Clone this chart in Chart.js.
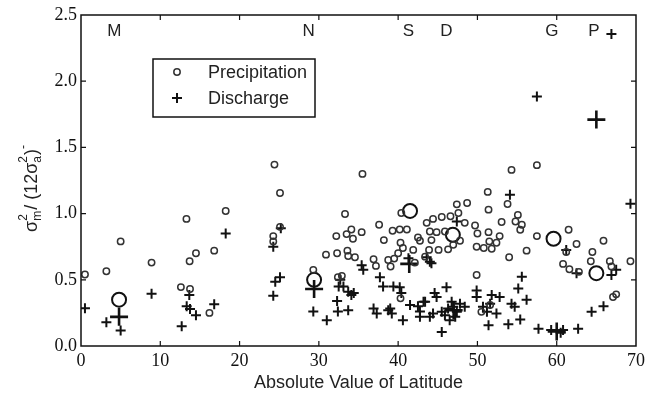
<!DOCTYPE html>
<html>
<head>
<meta charset="utf-8">
<script src="https://cdn.jsdelivr.net/npm/chart.js@4.4.1/dist/chart.umd.min.js"></script>
<style>
  body { margin: 0; background: #fff; }
</style>
</head>
<body>
<canvas id="latChart" width="654" height="401"></canvas>
<script>
// precipitation points (open circles)
const precipLat = [0.5, 3.2, 5.0, 8.9, 12.6, 13.75, 13.3, 13.7, 14.5, 16.8, 18.25, 16.2, 24.25, 24.25, 24.4, 25.1, 25.1,
  29.3, 30.9, 32.2, 32.3, 32.4, 33.3, 34.1, 33.5, 34.3, 35.4, 33.6, 33.7, 34.55, 32.9, 35.5, 37.6, 38.2, 36.9, 37.2,
  38.75, 39.05, 39.3, 40.2, 41.1, 40.3, 40.6, 40.0, 39.5, 40.4, 42.5, 42.75, 41.9, 42.1, 43.6, 44.4, 45.5, 44.0, 44.85,
  44.2, 43.9, 45.1, 43.4, 45.9, 46.3, 47.8, 46.95, 46.6, 47.4, 48.7, 47.6, 48.4, 49.7, 50.0, 49.9, 50.8, 51.4, 51.5,
  51.8, 52.4, 52.8, 51.3, 51.4, 53.05, 53.8, 54.0, 55.1, 54.8, 55.6, 55.4, 56.2, 57.5, 61.5, 62.5, 61.2, 60.8, 61.6,
  62.8, 64.5, 64.3, 65.9, 66.7, 66.9, 67.1, 67.5, 69.3, 49.9, 40.3, 50.5, 51.6, 54.3, 57.5];
const precipRatio = [0.54, 0.565, 0.79, 0.63, 0.445, 0.43, 0.96, 0.64, 0.70, 0.72, 1.02, 0.25, 0.83, 0.79, 1.37, 1.156, 0.90,
  0.575, 0.69, 0.83, 0.70, 0.52, 0.997, 0.88, 0.845, 0.81, 0.86, 0.72, 0.68, 0.67, 0.53, 1.30, 0.916, 0.80, 0.655, 0.605,
  0.65, 0.60, 0.87, 0.88, 0.88, 0.78, 0.74, 0.70, 0.66, 1.005, 0.82, 0.795, 0.726, 0.63, 0.93, 0.96, 0.974, 0.865, 0.86,
  0.80, 0.726, 0.726, 0.675, 0.865, 0.73, 0.795, 0.764, 0.98, 1.07, 1.08, 1.005, 0.93, 0.91, 0.85, 0.75, 0.74, 0.86, 0.79,
  0.734, 0.78, 0.83, 1.164, 1.03, 0.936, 1.073, 0.67, 0.99, 0.94, 0.916, 0.878, 0.72, 0.83, 0.878, 0.77, 0.71, 0.62, 0.58,
  0.56, 0.71, 0.64, 0.795, 0.64, 0.60, 0.37, 0.39, 0.64, 0.536, 0.36, 0.258, 0.31, 1.33, 1.366];

// discharge points (plus signs)
const dischargeLat = [0.5, 3.2, 5.0, 8.9, 12.7, 13.66, 13.33, 13.75, 14.5, 16.8, 18.25, 24.25, 24.5, 25.1, 24.25, 25.2,
  29.3, 31.0, 32.3, 32.4, 32.5, 33.7, 32.7, 33.1, 33.7, 34.1, 34.4, 35.4, 35.6, 37.7, 36.9, 37.3, 38.75, 39.2, 39.0,
  38.1, 39.4, 40.2, 40.4, 40.6, 41.3, 44.0, 43.6, 41.5, 42.5, 42.75, 43.4, 44.0, 44.4, 44.6, 44.85, 46.1, 45.5,
  45.5, 45.9, 46.3, 46.75, 46.95, 47.4, 47.2, 47.8, 48.4, 46.5, 49.9, 49.9, 50.7, 51.2, 51.6, 51.8, 52.8, 51.4, 52.4,
  53.9, 55.4, 54.3, 54.7, 56.2, 55.15, 55.6, 57.7, 60.8, 62.7, 64.4, 65.9, 62.5, 67.5, 66.9, 47.4, 54.1, 61.2, 57.5,
  66.9, 69.3, 43.2, 42.75, 44.2, 59.3, 60.5];
const dischargeRatio = [0.286, 0.18, 0.117, 0.395, 0.15, 0.385, 0.30, 0.28, 0.233, 0.316, 0.85, 0.75, 0.485, 0.52, 0.38, 0.89,
  0.26, 0.195, 0.34, 0.26, 0.45, 0.27, 0.50, 0.45, 0.41, 0.385, 0.40, 0.61, 0.575, 0.52, 0.284, 0.246, 0.27, 0.246, 0.284,
  0.45, 0.45, 0.443, 0.40, 0.195, 0.663, 0.637, 0.67, 0.31, 0.30, 0.26, 0.334, 0.22, 0.246, 0.40, 0.37, 0.443, 0.106,
  0.258, 0.233, 0.284, 0.334, 0.296, 0.258, 0.22, 0.32, 0.296, 0.195, 0.42, 0.37, 0.296, 0.258, 0.32, 0.385, 0.37, 0.157, 0.246,
  0.165, 0.20, 0.32, 0.296, 0.35, 0.435, 0.523, 0.13, 0.12, 0.13, 0.258, 0.30, 0.55, 0.575, 0.536, 0.94, 1.143, 0.726, 1.885,
  2.357, 1.075, 0.334, 0.22, 0.625, 0.12, 0.10];

// regional means (big symbols) and region letters
const regionLetters = ['M', 'N', 'S', 'D', 'G', 'P'];
const regionLetterLat = [4.2, 28.7, 41.3, 46.1, 59.4, 64.7];
const letterLevel = 2.38;
const meanPrecipLat = [4.8, 29.4, 41.5, 46.9, 59.6, 65.0];
const meanPrecipRatio = [0.35, 0.50, 1.02, 0.84, 0.81, 0.55];
const meanDischargeLat = [4.8, 29.4, 41.4, 47.0, 60.0, 65.0];
const meanDischargeRatio = [0.22, 0.43, 0.62, 0.27, 0.11, 1.71];

const xTickValues = [0, 10, 20, 30, 40, 50, 60, 70];
const yTickValues = [0, 0.5, 1.0, 1.5, 2.0, 2.5];

function toPoints(xs, ys) {
  return xs.map((v, i) => ({x: v, y: ys[i]}));
}

const sansFont = '"Liberation Sans", Arial, sans-serif';
const serifFont = '"Liberation Serif", "Times New Roman", serif';

// border, inward ticks, letters, legend and y title
const frameAndLabels = {
  id: 'frameAndLabels',
  afterDraw(chart) {
    const {ctx, chartArea: a, scales: {x, y}} = chart;
    ctx.save();
    ctx.strokeStyle = '#111';
    ctx.lineWidth = 1.5;
    ctx.strokeRect(a.left, a.top, a.right - a.left, a.bottom - a.top);

    ctx.lineWidth = 1.2;
    ctx.beginPath();
    xTickValues.slice(1, -1).forEach(v => {
      const px = x.getPixelForValue(v);
      ctx.moveTo(px, a.bottom); ctx.lineTo(px, a.bottom - 5);
      ctx.moveTo(px, a.top); ctx.lineTo(px, a.top + 5);
    });
    yTickValues.slice(1, -1).forEach(v => {
      const py = y.getPixelForValue(v);
      ctx.moveTo(a.left, py); ctx.lineTo(a.left + 5, py);
      ctx.moveTo(a.right, py); ctx.lineTo(a.right - 5, py);
    });
    ctx.stroke();

    // region letters
    ctx.fillStyle = '#222';
    ctx.font = '17px ' + sansFont;
    ctx.textAlign = 'center';
    ctx.textBaseline = 'middle';
    regionLetters.forEach((l, i) => {
      ctx.fillText(l, x.getPixelForValue(regionLetterLat[i]), y.getPixelForValue(letterLevel));
    });

    // legend box
    ctx.lineWidth = 1.5;
    ctx.strokeStyle = '#111';
    ctx.strokeRect(153, 59, 162, 58);
    const ds = chart.data.datasets;
    [0, 1].forEach((k, i) => {
      const cy = 72 + i * 26;
      const d = ds[k];
      ctx.strokeStyle = d.borderColor;
      ctx.fillStyle = 'rgba(0,0,0,0)';
      ctx.lineWidth = d.borderWidth;
      Chart.helpers.drawPoint(ctx, {pointStyle: d.pointStyle, radius: d.pointRadius, borderWidth: d.borderWidth}, 177, cy);
      ctx.fillStyle = '#222';
      ctx.textAlign = 'left';
      ctx.font = '18px ' + sansFont;
      ctx.fillText(d.label, 208, cy + 1);
    });

    // y axis title  σm²/(12σa²)⁻
    ctx.translate(31, 188);
    ctx.rotate(-Math.PI / 2);
    ctx.fillStyle = '#222';
    ctx.textBaseline = 'alphabetic';
    ctx.textAlign = 'left';
    const big = '18px ' + sansFont, small = '12px ' + sansFont;
    const parts = [
      {t: 'σ'}, {sub: 'm', sup: '2'}, {t: '/ (12σ'}, {sub: 'a', sup: '2'}, {t: ')'}, {sup: '-'}
    ];
    const widthOf = p => {
      if (p.t) { ctx.font = big; return ctx.measureText(p.t).width; }
      ctx.font = small;
      return Math.max(p.sub ? ctx.measureText(p.sub).width : 0, p.sup ? ctx.measureText(p.sup).width : 0) + 1;
    };
    const total = parts.reduce((s, p) => s + widthOf(p), 0);
    let cx = -total / 2;
    parts.forEach(p => {
      const w = widthOf(p);
      if (p.t) {
        ctx.font = big; ctx.fillText(p.t, cx, 6);
      } else {
        ctx.font = small;
        if (p.sub) ctx.fillText(p.sub, cx, 10);
        if (p.sup) ctx.fillText(p.sup, cx, -4);
      }
      cx += w;
    });
    ctx.restore();
  }
};

new Chart(document.getElementById('latChart'), {
  type: 'scatter',
  data: {
    datasets: [{
      label: 'Precipitation',
      data: toPoints(precipLat, precipRatio),
      pointStyle: 'circle',
      pointRadius: 3.2,
      borderWidth: 1.5,
      borderColor: '#333',
      backgroundColor: 'rgba(0,0,0,0)'
    }, {
      label: 'Discharge',
      data: toPoints(dischargeLat, dischargeRatio),
      pointStyle: 'cross',
      pointRadius: 5,
      borderWidth: 2,
      borderColor: '#111',
      backgroundColor: '#111'
    }, {
      label: 'Precipitation mean',
      data: toPoints(meanPrecipLat, meanPrecipRatio),
      pointStyle: 'circle',
      pointRadius: 7,
      borderWidth: 2,
      borderColor: '#111',
      backgroundColor: 'rgba(0,0,0,0)'
    }, {
      label: 'Discharge mean',
      data: toPoints(meanDischargeLat, meanDischargeRatio),
      pointStyle: 'cross',
      pointRadius: 9,
      borderWidth: 2.6,
      borderColor: '#111',
      backgroundColor: '#111'
    }]
  },
  options: {
    responsive: false,
    animation: false,
    layout: { padding: { top: 15, right: 18, left: 0, bottom: 0 } },
    plugins: {
      legend: { display: false },
      tooltip: { enabled: false }
    },
    scales: {
      x: {
        type: 'linear',
        min: 0,
        max: 70,
        afterFit: s => { s.height = 55; },
        afterBuildTicks: s => { s.ticks = xTickValues.map(v => ({value: v})); },
        grid: { display: false, drawTicks: false },
        border: { display: false },
        ticks: { padding: 4, color: '#111', font: { family: serifFont, size: 18 } },
        title: {
          display: true,
          text: 'Absolute Value of Latitude',
          color: '#222',
          font: { family: sansFont, size: 18 },
          padding: { top: 6, bottom: 7 }
        }
      },
      y: {
        min: 0,
        max: 2.5,
        afterFit: s => { s.width = 81; },
        afterBuildTicks: s => { s.ticks = yTickValues.map(v => ({value: v})); },
        grid: { display: false, drawTicks: false },
        border: { display: false },
        ticks: {
          padding: 4,
          color: '#111',
          font: { family: serifFont, size: 18 },
          callback: v => v.toFixed(1)
        }
      }
    }
  },
  plugins: [frameAndLabels]
});
</script>
</body>
</html>
